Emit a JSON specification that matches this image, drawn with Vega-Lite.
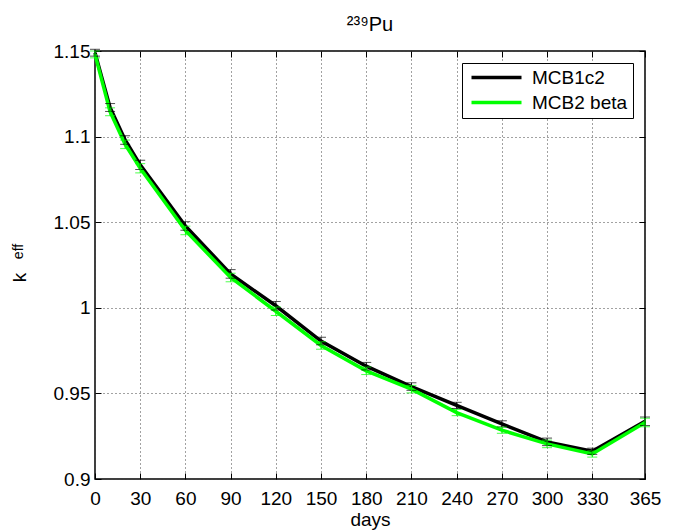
{
  "$schema": "https://vega.github.io/schema/vega-lite/v6.json",
  "width": 550,
  "height": 428,
  "autosize": "none",
  "padding": {"left": 95, "top": 51, "right": 30, "bottom": 53},
  "background": "white",
  "title": {"text": "²³⁹Pu", "fontSize": 20, "font": "Liberation Sans", "fontWeight": "normal", "color": "black", "frame": "group", "anchor": "middle", "offset": 7},
  "config": {
    "view": {"stroke": "black", "strokeWidth": 1.5},
    "font": "Liberation Sans",
    "axis": {
      "labelFont": "Liberation Sans", "labelFontSize": 19, "labelColor": "black",
      "titleFont": "Liberation Sans", "titleFontSize": 19, "titleFontWeight": "normal", "titleColor": "black",
      "domain": false, "tickColor": "black", "tickSize": -6, "tickWidth": 1,
      "gridColor": "#444", "gridDash": [1, 3], "gridWidth": 1, "gridOpacity": 1
    },
    "legend": {"labelFont": "Liberation Sans", "labelFontSize": 19, "labelColor": "black"}
  },
  "datasets": {
    "pts": [
      {"series": "MCB1c2", "day": 0, "k": 1.149, "err": 0.002},
      {"series": "MCB1c2", "day": 10, "k": 1.117, "err": 0.0023},
      {"series": "MCB1c2", "day": 20, "k": 1.098, "err": 0.0025},
      {"series": "MCB1c2", "day": 30, "k": 1.0835, "err": 0.0027},
      {"series": "MCB1c2", "day": 60, "k": 1.0478, "err": 0.0025},
      {"series": "MCB1c2", "day": 90, "k": 1.0198, "err": 0.0025},
      {"series": "MCB1c2", "day": 120, "k": 1.0012, "err": 0.0025},
      {"series": "MCB1c2", "day": 150, "k": 0.9806, "err": 0.0022},
      {"series": "MCB1c2", "day": 180, "k": 0.9659, "err": 0.0022},
      {"series": "MCB1c2", "day": 210, "k": 0.954, "err": 0.0022},
      {"series": "MCB1c2", "day": 240, "k": 0.943, "err": 0.0018},
      {"series": "MCB1c2", "day": 270, "k": 0.9322, "err": 0.0018},
      {"series": "MCB1c2", "day": 300, "k": 0.9217, "err": 0.0022},
      {"series": "MCB1c2", "day": 330, "k": 0.9162, "err": 0.0018},
      {"series": "MCB1c2", "day": 365, "k": 0.9337, "err": 0.0025},
      {"series": "MCB2 beta", "day": 0, "k": 1.148, "err": 0.002},
      {"series": "MCB2 beta", "day": 10, "k": 1.1145, "err": 0.0023},
      {"series": "MCB2 beta", "day": 20, "k": 1.0955, "err": 0.0025},
      {"series": "MCB2 beta", "day": 30, "k": 1.0815, "err": 0.0027},
      {"series": "MCB2 beta", "day": 60, "k": 1.0452, "err": 0.0025},
      {"series": "MCB2 beta", "day": 90, "k": 1.0177, "err": 0.0025},
      {"series": "MCB2 beta", "day": 120, "k": 0.998, "err": 0.0025},
      {"series": "MCB2 beta", "day": 150, "k": 0.978, "err": 0.0022},
      {"series": "MCB2 beta", "day": 180, "k": 0.9632, "err": 0.0022},
      {"series": "MCB2 beta", "day": 210, "k": 0.9525, "err": 0.0022},
      {"series": "MCB2 beta", "day": 240, "k": 0.9388, "err": 0.0018},
      {"series": "MCB2 beta", "day": 270, "k": 0.9285, "err": 0.0018},
      {"series": "MCB2 beta", "day": 300, "k": 0.9205, "err": 0.0022},
      {"series": "MCB2 beta", "day": 330, "k": 0.9146, "err": 0.0018},
      {"series": "MCB2 beta", "day": 365, "k": 0.933, "err": 0.0025}
    ]
  },
  "data": {"name": "pts"},
  "layer": [
    {
      "mark": {"type": "line", "strokeWidth": 3.5},
      "encoding": {
        "x": {"field": "day", "type": "quantitative", "scale": {"domain": [0, 365], "nice": false, "zero": false},
              "axis": {"orient": "bottom", "values": [0, 30, 60, 90, 120, 150, 180, 210, 240, 270, 300, 330, 365], "title": "days", "grid": true, "labelPadding": 16, "titlePadding": 2, "labelFlush": false, "labelOverlap": false}},
        "y": {"field": "k", "type": "quantitative", "scale": {"domain": [0.9, 1.15], "nice": false, "zero": false},
              "axis": {"orient": "left", "values": [0.9, 0.95, 1.0, 1.05, 1.1, 1.15], "format": "~g", "title": "k", "grid": true, "labelPadding": 11, "titleX": -76, "titleY": 226, "titleAngle": 270, "titleAlign": "center", "titleBaseline": "middle", "labelFlush": false, "labelOverlap": false}},
        "color": {"field": "series", "type": "nominal",
                  "scale": {"domain": ["MCB1c2", "MCB2 beta"], "range": ["black", "#00ff00"]},
                  "legend": {"title": null, "orient": "top-right", "offset": 12, "strokeColor": "black", "fillColor": "white", "padding": 5, "symbolType": "M-1,0H9", "symbolSize": 100, "symbolStrokeWidth": 3.5, "symbolFillColor": "transparent", "rowPadding": 5, "labelOffset": 46, "cornerRadius": 0}}
      }
    },
    {
      "mark": {"type": "errorbar", "ticks": {"size": 10, "thickness": 1}, "thickness": 1},
      "encoding": {
        "x": {"field": "day", "type": "quantitative", "axis": null},
        "y": {"field": "k", "type": "quantitative", "axis": null},
        "yError": {"field": "err"},
        "color": {"field": "series", "type": "nominal", "legend": null}
      }
    },
    {
      "mark": {"type": "point", "opacity": 0},
      "encoding": {
        "x": {"field": "day", "type": "quantitative", "axis": null},
        "y": {"field": "k", "type": "quantitative", "axis": {"orient": "left", "values": [1.0], "labels": false, "ticks": false, "grid": false, "domain": false, "title": "eff", "titleFontSize": 14, "titleX": -77, "titleY": 200, "titleAngle": 270, "titleAlign": "center", "titleBaseline": "middle"}}
      }
    },
    {
      "mark": {"type": "point", "opacity": 0},
      "encoding": {
        "x": {"field": "day", "type": "quantitative", "axis": {"orient": "top", "values": [0, 30, 60, 90, 120, 150, 180, 210, 240, 270, 300, 330, 365], "labels": false, "title": null, "grid": false}},
        "y": {"field": "k", "type": "quantitative", "axis": {"orient": "right", "values": [0.9, 0.95, 1.0, 1.05, 1.1, 1.15], "labels": false, "title": null, "grid": false}}
      }
    }
  ],
  "resolve": {"axis": {"x": "independent", "y": "independent"}}
}
